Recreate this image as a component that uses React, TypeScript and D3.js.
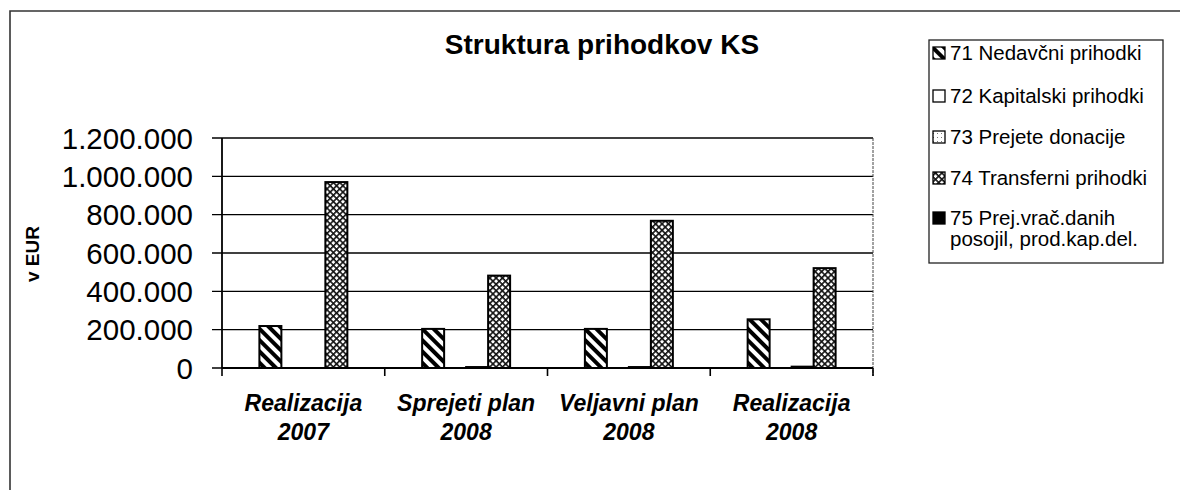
import * as React from "react";
import * as d3 from "d3";

// categories on the x axis (two text lines each)
const categories = ["Realizacija 2007", "Sprejeti plan 2008", "Veljavni plan 2008", "Realizacija 2008"];
const categoryLines = [
  ["Realizacija", "2007"],
  ["Sprejeti plan", "2008"],
  ["Veljavni plan", "2008"],
  ["Realizacija", "2008"],
];

// series values in EUR
const nedavcni = [219000, 204000, 204000, 254000];
const kapitalski = [0, 0, 0, 0];
const donacije = [0, 5000, 5000, 7000];
const transferni = [970000, 482000, 768000, 521000];
const posojila: (number | null)[] = [null, null, null, null];

const seriesKeys = ["71", "72", "73", "74", "75"];
const seriesNames = [
  ["71 Nedavčni prihodki"],
  ["72 Kapitalski prihodki"],
  ["73 Prejete donacije"],
  ["74 Transferni prihodki"],
  ["75 Prej.vrač.danih", "posojil, prod.kap.del."],
];
const seriesValues = [nedavcni, kapitalski, donacije, transferni, posojila];
const seriesFill = ["url(#hatch)", "#fff", "url(#dots)", "url(#cross)", "#000"];

const yTicks = [0, 200000, 400000, 600000, 800000, 1000000, 1200000];

const W = 1180;
const H = 490;
const FONT = "'Liberation Sans', Arial, sans-serif";

const locale = d3.formatLocale({ decimal: ",", thousands: ".", grouping: [3], currency: ["", " €"] });
const fmt = locale.format(",d");

export default function App() {
  const plot = { left: 222, right: 873, top: 138, bottom: 368 };

  const y = d3.scaleLinear().domain([0, 1200000]).range([plot.bottom, plot.top]);
  const x0 = d3.scaleBand().domain(categories).range([plot.left, plot.right]).padding(0);
  // series 75 has no values and gets no slot in the clusters
  const plotted = seriesKeys.filter((k, i) => seriesValues[i].some((v) => v !== null));
  const x1 = d3
    .scaleBand()
    .domain(plotted)
    .range([0, x0.bandwidth()])
    .paddingInner(0)
    .paddingOuter(1.7);

  const legendRows = [53, 96, 137, 178, 218];

  return (
    <svg width={W} height={H} style={{ position: "absolute", left: 0, top: 0, background: "#fff" }} fontFamily={FONT}>
      <defs>
        <pattern id="hatch" patternUnits="userSpaceOnUse" width={8} height={8} patternTransform="rotate(-45)">
          <rect width={8} height={8} fill="#fff" />
          <rect width={4} height={8} fill="#000" />
        </pattern>
        <pattern id="cross" patternUnits="userSpaceOnUse" width={4.5} height={4.5} patternTransform="rotate(45)">
          <rect width={4.5} height={4.5} fill="#fff" />
          <rect width={4.5} height={1.6} fill="#111" />
          <rect width={1.6} height={4.5} fill="#111" />
        </pattern>
        <pattern id="dots" patternUnits="userSpaceOnUse" width={4} height={4}>
          <rect width={4} height={4} fill="#fff" />
          <rect x={1} y={1} width={1} height={1} fill="#777" />
        </pattern>
      </defs>

      {/* outer frame */}
      <path d={`M10,${H} L10,11 L${W},11`} fill="none" stroke="#333" strokeWidth={1.6} />

      <text x={602} y={54} textAnchor="middle" fontSize={28} fontWeight="bold">
        Struktura prihodkov KS
      </text>

      {/* gridlines and y ticks */}
      {yTicks.map((t) => (
        <g key={t}>
          <line x1={plot.left - 10} x2={plot.right} y1={y(t)} y2={y(t)} stroke="#000" strokeWidth={1.3} />
          <text x={193} y={y(t)} dy="0.36em" textAnchor="end" fontSize={29.5}>
            {fmt(t)}
          </text>
        </g>
      ))}

      {/* plot area borders */}
      <line x1={plot.left} x2={plot.left} y1={plot.top} y2={plot.bottom} stroke="#000" strokeWidth={1.8} />
      <line x1={plot.right} x2={plot.right} y1={plot.top} y2={plot.bottom + 8} stroke="#444" strokeWidth={1} strokeDasharray="3,1" />

      {/* bars */}
      {categories.map((c, ci) => (
        <g key={c} transform={`translate(${x0(c)},0)`}>
          {seriesKeys.map((k, si) => {
            const v = seriesValues[si][ci];
            if (v === null || v === 0 || x1(k) === undefined) return null;
            return (
              <rect
                key={k}
                x={x1(k)}
                y={y(v)}
                width={x1.bandwidth()}
                height={y(0) - y(v)}
                fill={seriesFill[si]}
                stroke="#000"
                strokeWidth={2}
              />
            );
          })}
        </g>
      ))}

      {/* x axis */}
      <line x1={plot.left} x2={plot.right} y1={plot.bottom} y2={plot.bottom} stroke="#000" strokeWidth={1.8} />
      {[...categories.map((c) => x0(c) as number), plot.right].map((xx, i) => (
        <line key={i} x1={xx} x2={xx} y1={plot.bottom} y2={plot.bottom + 8} stroke="#000" strokeWidth={1.6} />
      ))}
      {categories.map((c, ci) => (
        <text
          key={c}
          x={(x0(c) as number) + x0.bandwidth() / 2}
          y={411}
          textAnchor="middle"
          fontSize={23}
          fontWeight="bold"
          fontStyle="italic"
        >
          {categoryLines[ci].map((l, li) => (
            <tspan key={li} x={(x0(c) as number) + x0.bandwidth() / 2} dy={li === 0 ? 0 : 29}>
              {l}
            </tspan>
          ))}
        </text>
      ))}

      {/* y axis title */}
      <text transform="translate(39,254) rotate(-90)" textAnchor="middle" fontSize={19} fontWeight="bold">
        v EUR
      </text>

      {/* legend */}
      <rect x={929} y={40} width={234} height={223} fill="#fff" stroke="#222" strokeWidth={1.3} />
      {seriesKeys.map((k, si) => (
        <g key={k}>
          <rect x={933} y={legendRows[si] - 6} width={12} height={12} fill={seriesFill[si]} stroke="#000" strokeWidth={1.3} />
          <text x={950} y={legendRows[si]} fontSize={20.5}>
            {seriesNames[si].map((l, li) => (
              <tspan key={li} x={950} dy={li === 0 ? "0.36em" : 21}>
                {l}
              </tspan>
            ))}
          </text>
        </g>
      ))}
    </svg>
  );
}
